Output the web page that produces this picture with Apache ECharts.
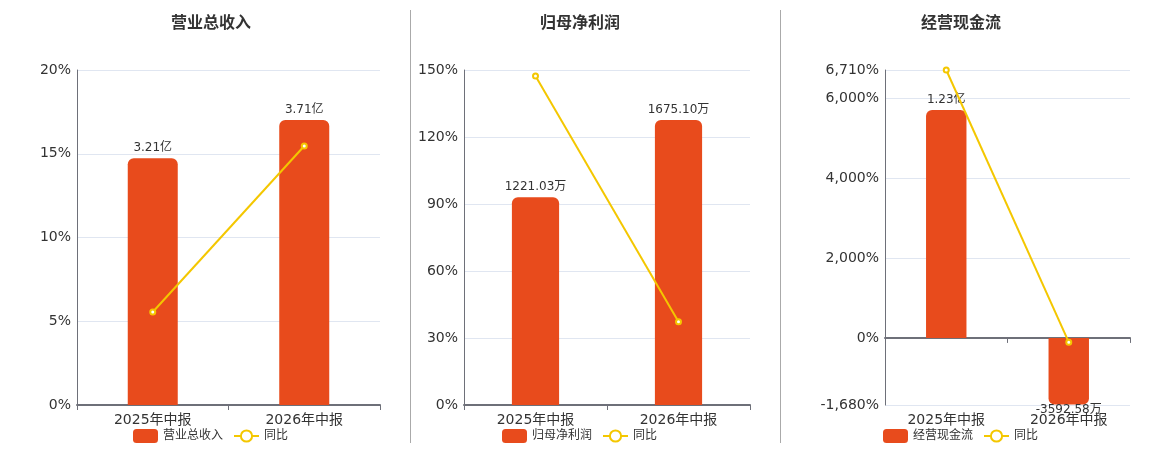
<!DOCTYPE html>
<html><head><meta charset="utf-8">
<script src="https://cdn.jsdelivr.net/npm/echarts@6/dist/echarts.min.js"></script>
<style>html,body{margin:0;padding:0;background:#fff}#c{width:1160px;height:450px}</style>
</head><body><div id="c"></div>
<script>
const categories = ['2025年中报', '2026年中报'];
const titles = ['营业总收入', '归母净利润', '经营现金流'];
const yoyName = '同比';

const revenueValues = [3.21, 3.71];          // 亿
const revenueLabels = ['3.21亿', '3.71亿'];
const revenueYoY = [5.55, 15.46];            // %

const profitValues = [1221.03, 1675.10];     // 万
const profitLabels = ['1221.03万', '1675.10万'];
const profitYoY = [147.3, 37.3];             // %

const cashValues = [12300, -3592.58];        // 万
const cashLabels = ['1.23亿', '-3592.58万'];
const cashYoY = [6710, -107];                // %

const pctAxis1 = {min: 0, max: 20, interval: 5};
const pctAxis2 = {min: 0, max: 150, interval: 30};
const pctAxis3 = {min: -1680, max: 6710, ticks: [-1680, 0, 2000, 4000, 6000, 6710]};

const BAR = '#E84B1C', LINE = '#F4C700';
const FONT = "'DejaVu Sans', 'Noto Sans CJK SC', sans-serif";
const chart = echarts.init(document.getElementById('c'));

const fmtPct = v => Number(v).toLocaleString('en-US') + '%';
const barMax = vals => Math.max(...vals) / 0.851;

function pctY(gi, cfg) {
  const o = {
    type: 'value', gridIndex: gi, min: cfg.min, max: cfg.max, position: 'left',
    axisLine: {show: true, lineStyle: {color: '#6E7079'}},
    axisTick: {show: false},
    axisLabel: {color: '#333', fontSize: 14, fontFamily: FONT, margin: 6, formatter: fmtPct},
    splitLine: {lineStyle: {color: '#E0E6F1'}}
  };
  if (cfg.interval) o.interval = cfg.interval;
  if (cfg.ticks) {
    o.axisLabel.customValues = cfg.ticks;
    o.axisTick = {show: false, customValues: cfg.ticks};
  }
  return o;
}
function barY(gi, min, max) {
  return {type: 'value', gridIndex: gi, min: min, max: max, show: false, position: 'right',
    splitLine: {show: false}};
}
function catX(gi, extra) {
  return Object.assign({
    type: 'category', gridIndex: gi, data: categories, position: 'bottom',
    axisLine: {lineStyle: {color: '#6E7079', width: 2}},
    axisTick: {show: true, lineStyle: {color: '#6E7079'}},
    axisLabel: {color: '#333', fontSize: 14, fontFamily: FONT, margin: 8}
  }, extra || {});
}
function barSeries(name, xi, yi, vals, labels) {
  return {
    name: name, type: 'bar', xAxisIndex: xi, yAxisIndex: yi, barWidth: '33%',
    itemStyle: {color: BAR},
    data: vals.map((v, i) => ({
      value: v,
      itemStyle: {borderRadius: v >= 0 ? [6, 6, 0, 0] : [0, 0, 6, 6]},
      label: v >= 0 ? {position: 'top', distance: 4} : {position: 'bottom', distance: -1}
    })),
    label: {show: true, fontSize: 12, fontFamily: FONT, color: '#333',
      formatter: p => labels[p.dataIndex]}
  };
}
function lineSeries(xi, yi, vals) {
  return {
    name: yoyName, type: 'line', xAxisIndex: xi, yAxisIndex: yi, data: vals, z: 5,
    symbol: 'emptyCircle', symbolSize: 5,
    itemStyle: {color: LINE, borderWidth: 2}, lineStyle: {color: LINE, width: 2}
  };
}
const titleStyle = {fontSize: 16, fontWeight: 'bold', color: '#333', fontFamily: FONT};
function legend(names, left) {
  return {data: names, left: left, top: 424, itemWidth: 25, itemHeight: 14, itemGap: 10,
    textStyle: {fontSize: 12, color: '#333', fontFamily: FONT}};
}

const cashMax = barMax(cashValues);
chart.setOption({
  animation: false,
  textStyle: {fontFamily: FONT},
  title: [
    {text: titles[0], left: 206, top: 11, textAlign: 'center', textStyle: titleStyle},
    {text: titles[1], left: 575, top: 11, textAlign: 'center', textStyle: titleStyle},
    {text: titles[2], left: 956, top: 11, textAlign: 'center', textStyle: titleStyle}
  ],
  legend: [
    legend([titles[0], yoyName], 128),
    legend([titles[1], yoyName], 497),
    legend([titles[2], yoyName], 878)
  ],
  grid: [
    {left: 77, width: 303, top: 70, bottom: 45},
    {left: 464, width: 286, top: 70, bottom: 45},
    {left: 885, width: 245, top: 70, bottom: 45}
  ],
  xAxis: [
    catX(0), catX(1),
    catX(2, {axisLabel: {show: false}}),
    catX(2, {axisLine: {show: false, onZero: false}, axisTick: {show: false}})
  ],
  yAxis: [
    pctY(0, pctAxis1), barY(0, 0, barMax(revenueValues)),
    pctY(1, pctAxis2), barY(1, 0, barMax(profitValues)),
    pctY(2, pctAxis3), barY(2, cashMax * pctAxis3.min / pctAxis3.max, cashMax)
  ],
  graphic: [
    {type: 'line', shape: {x1: 410.5, y1: 10, x2: 410.5, y2: 443}, style: {stroke: '#AAAAAA', lineWidth: 1}},
    {type: 'line', shape: {x1: 780.5, y1: 10, x2: 780.5, y2: 443}, style: {stroke: '#AAAAAA', lineWidth: 1}}
  ],
  series: [
    barSeries(titles[0], 0, 1, revenueValues, revenueLabels),
    lineSeries(0, 0, revenueYoY),
    barSeries(titles[1], 1, 3, profitValues, profitLabels),
    lineSeries(1, 2, profitYoY),
    barSeries(titles[2], 2, 5, cashValues, cashLabels),
    lineSeries(2, 4, cashYoY)
  ]
});
</script></body></html>
